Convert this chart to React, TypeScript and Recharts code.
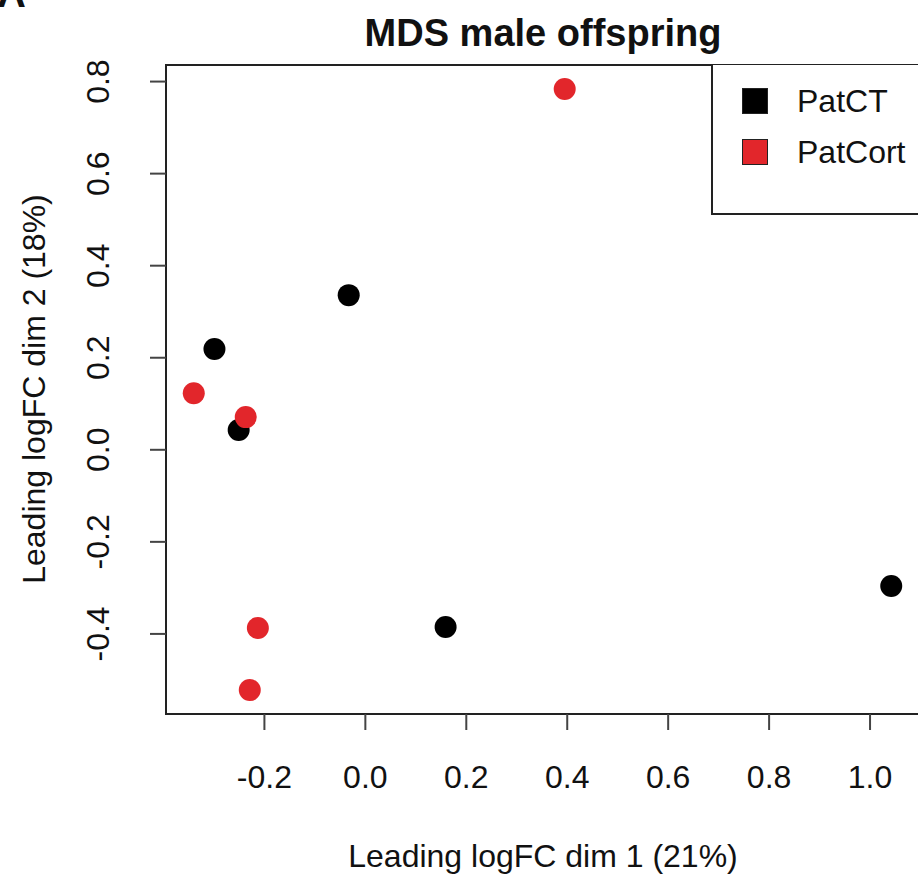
import { ScatterChart, Scatter, XAxis, YAxis, ReferenceArea } from 'recharts';

// MDS coordinates
const patCT = [
  { x: -0.299, y: 0.219 },
  { x: -0.251, y: 0.043 },
  { x: -0.033, y: 0.336 },
  { x: 0.159, y: -0.385 },
  { x: 1.042, y: -0.296 },
];

const patCort = [
  { x: 0.395, y: 0.784 },
  { x: -0.340, y: 0.123 },
  { x: -0.237, y: 0.071 },
  { x: -0.213, y: -0.387 },
  { x: -0.229, y: -0.522 },
];

const xTicks = [-0.2, 0.0, 0.2, 0.4, 0.6, 0.8, 1.0];
const yTicks = [-0.4, -0.2, 0.0, 0.2, 0.4, 0.6, 0.8];

const xDomain: [number, number] = [-0.395, 1.097];
const yDomain: [number, number] = [-0.574, 0.836];

const BLACK = '#000000';
const RED = '#e2262b';
const FONT = '"Liberation Sans", Arial, Helvetica, sans-serif';

const dot = (color: string) => (props: any) => (
  <circle cx={props.cx} cy={props.cy} r={11} fill={color} />
);

const XTick = (props: any) => {
  const { x, y, payload } = props;
  return (
    <text x={x} y={y + 45} textAnchor="middle" dominantBaseline="central" fontSize={32} fontFamily={FONT} fill="#111">
      {Number(payload.value).toFixed(1)}
    </text>
  );
};

const YTick = (props: any) => {
  const { x, y, payload } = props;
  const tx = x - 50;
  return (
    <text x={tx} y={y} textAnchor="middle" dominantBaseline="central" fontSize={32} fontFamily={FONT} fill="#111"
      transform={`rotate(-90, ${tx}, ${y})`}>
      {Number(payload.value).toFixed(1)}
    </text>
  );
};

export default function App() {
  return (
    <div style={{ position: 'absolute', left: 0, top: 0, width: 918, height: 880, overflow: 'hidden', background: '#fff', fontFamily: FONT }}>
      <svg width={918} height={880} style={{ position: 'absolute', left: 0, top: 0 }}>
        <text x={-3} y={7} fontSize={40} fontWeight="bold" fontFamily={FONT} fill="#111">A</text>
        <text x={543} y={33} textAnchor="middle" dominantBaseline="central" fontSize={38} fontWeight="bold" fontFamily={FONT} fill="#111">
          MDS male offspring
        </text>
        <text x={543} y={856} textAnchor="middle" dominantBaseline="central" fontSize={32} fontFamily={FONT} fill="#111">
          Leading logFC dim 1 (21%)
        </text>
        <text x={34} y={389} textAnchor="middle" dominantBaseline="central" fontSize={32} fontFamily={FONT} fill="#111"
          transform="rotate(-90, 34, 389)">
          Leading logFC dim 2 (18%)
        </text>
      </svg>
      <div style={{ position: 'absolute', left: 0, top: 0 }}>
        <ScatterChart width={930} height={880} margin={{ top: 65, left: 0, right: 11, bottom: 0 }}>
          <XAxis type="number" dataKey="x" domain={xDomain} ticks={xTicks} allowDataOverflow interval={0}
            axisLine={false} tickLine={{ stroke: '#444', strokeWidth: 2 }} tickSize={16} tick={<XTick />} height={166} />
          <YAxis type="number" dataKey="y" domain={yDomain} ticks={yTicks} allowDataOverflow interval={0}
            axisLine={false} tickLine={{ stroke: '#444', strokeWidth: 2 }} tickSize={16} tick={<YTick />} width={166} />
          <ReferenceArea x1={xDomain[0]} x2={xDomain[1]} y1={yDomain[0]} y2={yDomain[1]}
            fill="none" fillOpacity={0} stroke="#222" strokeWidth={2} ifOverflow="visible" />
          <Scatter name="PatCT" data={patCT} shape={dot(BLACK)} isAnimationActive={false} />
          <Scatter name="PatCort" data={patCort} shape={dot(RED)} isAnimationActive={false} />
        </ScatterChart>
      </div>
      <div style={{ position: 'absolute', left: 711, top: 65, width: 220, height: 150, border: '2px solid #222', borderTop: 'none', boxSizing: 'border-box', background: '#fff' }}>
        {[{ name: 'PatCT', color: BLACK }, { name: 'PatCort', color: RED }].map((item, i) => (
          <div key={item.name} style={{ position: 'absolute', left: 29, top: 36 + i * 51 - 13, height: 26, display: 'flex', alignItems: 'center' }}>
            <div style={{ width: 26, height: 26, background: item.color, border: '1px solid #222', boxSizing: 'border-box' }} />
            <span style={{ marginLeft: 29, fontSize: 32, color: '#111', lineHeight: '26px' }}>{item.name}</span>
          </div>
        ))}
      </div>
    </div>
  );
}
